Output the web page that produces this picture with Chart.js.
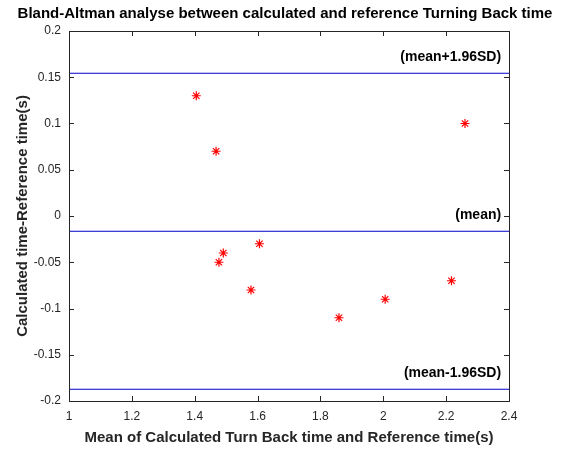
<!DOCTYPE html>
<html>
<head>
<meta charset="utf-8">
<title>Bland-Altman</title>
<script src="https://cdn.jsdelivr.net/npm/chart.js@4.4.1/dist/chart.umd.min.js"></script>
<style>
    html, body { margin: 0; padding: 0; background: #ffffff; }
    #wrap { width: 570px; height: 450px; }
</style>
</head>
<body>
<div id="wrap"><canvas id="baChart" width="570" height="450"></canvas></div>
<script>
// Mean of the two measurements (x) and their difference (y)
const xMeans = [1.405, 1.468, 2.26, 1.606, 1.491, 1.477, 1.579, 1.859, 2.006, 2.217];
const yDiffs = [0.13, 0.07, 0.10, -0.03, -0.04, -0.05, -0.08, -0.11, -0.09, -0.07];

// Reference lines
const lineNames = ['(mean+1.96SD)', '(mean)', '(mean-1.96SD)'];
const lineValues = [0.1543, -0.0165, -0.1873];

// Axis ticks
const xTicks = [1, 1.2, 1.4, 1.6, 1.8, 2, 2.2, 2.4];
const yTicks = [-0.2, -0.15, -0.1, -0.05, 0, 0.05, 0.1, 0.15, 0.2];

document.addEventListener('DOMContentLoaded', function () {
    const FONT = "'Liberation Sans', Arial, Helvetica, sans-serif";
    const AXIS_COLOR = '#262626';
    const LINE_COLOR = '#0000cc';

    const points = xMeans.map((x, i) => ({ x: x, y: yDiffs[i] }));

    const lineSets = lineValues.map((v, i) => ({
        type: 'line',
        label: lineNames[i],
        data: [{ x: xTicks[0], y: v }, { x: xTicks[xTicks.length - 1], y: v }],
        borderColor: LINE_COLOR,
        borderWidth: 1.2,
        pointRadius: 0,
        fill: false
    }));

    // MATLAB-like box with inward ticks plus the line captions
    const boxPlugin = {
        id: 'boxPlugin',
        afterDraw(chart) {
            const { ctx, chartArea: a, scales: { x, y } } = chart;
            const len = 5;
            ctx.save();
            ctx.strokeStyle = AXIS_COLOR;
            ctx.lineWidth = 1;
            ctx.strokeRect(a.left + 0.5, a.top + 0.5, a.right - a.left, a.bottom - a.top);
            ctx.beginPath();
            xTicks.forEach(t => {
                const px = Math.round(x.getPixelForValue(t)) + 0.5;
                ctx.moveTo(px, a.bottom); ctx.lineTo(px, a.bottom - len);
                ctx.moveTo(px, a.top); ctx.lineTo(px, a.top + len);
            });
            yTicks.forEach(t => {
                const py = Math.round(y.getPixelForValue(t)) + 0.5;
                ctx.moveTo(a.left, py); ctx.lineTo(a.left + len, py);
                ctx.moveTo(a.right, py); ctx.lineTo(a.right - len, py);
            });
            ctx.stroke();

            ctx.fillStyle = '#000000';
            ctx.font = 'bold 14px ' + FONT;
            ctx.textAlign = 'right';
            ctx.textBaseline = 'middle';
            lineValues.forEach((v, i) => {
                ctx.fillText(lineNames[i], x.getPixelForValue(2.375), y.getPixelForValue(v) - 16);
            });
            ctx.restore();
        }
    };

    const config = {
        type: 'scatter',
        data: {
            datasets: [
                {
                    label: 'difference',
                    data: points,
                    pointStyle: 'star',
                    pointRadius: 4.5,
                    pointHoverRadius: 4.5,
                    borderColor: '#ff0000',
                    backgroundColor: '#ff0000',
                    borderWidth: 1.2
                },
                ...lineSets
            ]
        },
        options: {
            responsive: false,
            animation: false,
            events: [],
            layout: { padding: 0 },
            plugins: {
                legend: { display: false },
                tooltip: { enabled: false },
                title: {
                    display: true,
                    text: 'Bland-Altman analyse between calculated and reference Turning Back time',
                    color: '#000000',
                    font: { family: FONT, size: 15, weight: 'bold' },
                    padding: { top: 5, bottom: 8 }
                }
            },
            scales: {
                x: {
                    type: 'linear',
                    min: 1,
                    max: 2.4,
                    afterBuildTicks: (scale) => { scale.ticks = xTicks.map(v => ({ value: v })); },
                    afterFit: (scale) => { scale.height = 49; },
                    grid: { display: false, drawTicks: false },
                    border: { display: false },
                    ticks: {
                        color: AXIS_COLOR,
                        font: { family: FONT, size: 12 },
                        padding: 8,
                        maxRotation: 0,
                        callback: (v) => String(Number(v.toFixed(2)))
                    },
                    title: {
                        display: true,
                        text: 'Mean of Calculated Turn Back time and Reference time(s)',
                        color: AXIS_COLOR,
                        font: { family: FONT, size: 15, weight: 'bold' },
                        padding: { top: 4, bottom: 3 }
                    }
                },
                y: {
                    type: 'linear',
                    min: -0.2,
                    max: 0.2,
                    afterBuildTicks: (scale) => { scale.ticks = yTicks.map(v => ({ value: v })); },
                    afterFit: (scale) => { scale.width = 69; },
                    grid: { display: false, drawTicks: false },
                    border: { display: false },
                    ticks: {
                        color: AXIS_COLOR,
                        font: { family: FONT, size: 12 },
                        padding: 8,
                        callback: (v) => String(Number(v.toFixed(2)))
                    },
                    title: {
                        display: true,
                        text: 'Calculated time-Reference time(s)',
                        color: AXIS_COLOR,
                        font: { family: FONT, size: 15, weight: 'bold' },
                        padding: { top: 14, bottom: 4 }
                    }
                },
                // empty right axis, only reserves the margin right of the box
                yRight: {
                    type: 'linear',
                    position: 'right',
                    min: -0.2,
                    max: 0.2,
                    afterFit: (scale) => { scale.width = 61; },
                    grid: { display: false, drawTicks: false },
                    border: { display: false },
                    ticks: { display: false }
                }
            }
        },
        plugins: [boxPlugin]
    };

    new Chart(document.getElementById('baChart'), config);
});
</script>
</body>
</html>
